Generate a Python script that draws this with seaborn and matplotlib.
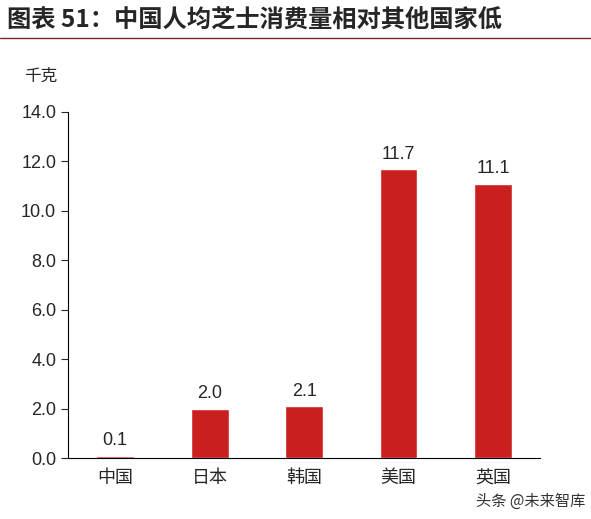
import matplotlib
matplotlib.use("Agg")
import matplotlib.pyplot as plt
import seaborn as sns
import pandas as pd

countries = ["中国", "日本", "韩国", "美国", "英国"]
values = [0.1, 2.0, 2.1, 11.7, 11.1]

sns.set_style("white")
plt.rcParams["font.family"] = ["Noto Sans CJK SC", "DejaVu Sans"]

df = pd.DataFrame({"country": countries, "kg": values})

fig = plt.figure(figsize=(5.91, 5.19), dpi=100)
ax = fig.add_axes([0.115, 0.1175, 0.799, 0.667])
sns.barplot(data=df, x="country", y="kg", color="#C9201F", width=0.40, saturation=1, ax=ax)

ax.set_ylim(0, 14)
ax.set_yticks([0, 2, 4, 6, 8, 10, 12, 14])
ax.set_yticklabels([f"{v:.1f}" for v in ax.get_yticks()], fontsize=13, family="Liberation Sans")
ax.tick_params(axis="x", labelsize=13, length=0, pad=8)
ax.tick_params(axis="y", left=True, length=5, direction="out", width=0.8)
ax.set_xlabel("")
ax.set_ylabel("")
for s in ["top", "right"]:
    ax.spines[s].set_visible(False)
for s in ["left", "bottom"]:
    ax.spines[s].set_color("black")
    ax.spines[s].set_linewidth(0.8)

for i, v in enumerate(values):
    ax.text(i, v + 0.25, f"{v:.1f}", ha="center", va="bottom", fontsize=13, family="Liberation Sans")

fig.text(0.012, 0.96, "图表 51：中国人均芝士消费量相对其他国家低", fontsize=17.5, fontweight="bold", va="center")
fig.add_artist(plt.Line2D([0.0, 1.0], [0.927, 0.927], color="#7A2A2A", linewidth=1.0))
fig.text(0.04, 0.852, "千克", fontsize=12, va="center")
fig.text(0.99, 0.035, "头条 @未来智库", fontsize=11, color="#333333", ha="right", va="center")

fig.savefig("out.png", dpi=100)
